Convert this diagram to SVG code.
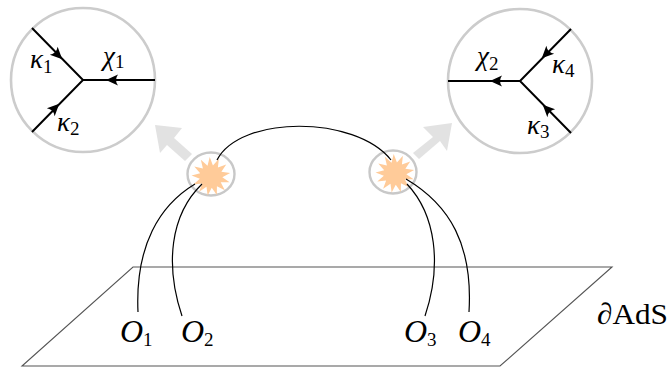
<svg xmlns="http://www.w3.org/2000/svg" width="672" height="367" viewBox="0 0 672 367">
<style>
.big{fill:none;stroke:#ccc;stroke-width:2.6}
.small{fill:none;stroke:#c8c8c8;stroke-width:2.4}
.leg{fill:none;stroke:#000;stroke-width:2}
.ah{fill:#000;stroke:none}
.wire{fill:none;stroke:#000;stroke-width:1.2}
.star{fill:#ffcb99;stroke:none}
.arrow{fill:#e2e2e2;stroke:none}
text{font-family:"Liberation Serif","DejaVu Serif",serif;fill:#000}
.m{font-style:italic;font-size:27px}
.o{font-style:italic;font-size:32px}
.sub{font-size:19px;font-style:normal}
</style>
<defs>
<path id="ah" class="ah" d="M6 0L-6 -5.5Q-2 0 -6 5.5Z"/>
<polygon id="burst" class="star" points="-1.2,-18 1.8,-10.3 7.3,-16.5 6.4,-8.3 14.1,-11.2 9.6,-4.4 17.7,-3.3 10.5,.6 17.2,5.3 9,5.4 12.8,12.7 5.5,9 5.4,17.2 .7,10.5 -3.1,17.7 -4.2,9.6 -11,14.2 -8.2,6.5 -16.4,7.5 -10.3,2 -18,-1 -10,-3.1 -15.5,-9.2 -7.5,-7.4 -9.4,-15.4 -3.2,-10"/>
</defs>
<g id="plane"><polygon points="133,267 612,267 500,366 22,366" fill="none" stroke="#555" stroke-width="1.1"/></g>
<g id="arrows">
<polygon class="arrow" points="155,125 182,128 174,138 192,154 185,161 167,145 160,153"/>
<polygon class="arrow" points="452,123 423,127 433,137 413,153 419,159 440,141 447,151"/>
</g>
<g id="blob-left"><ellipse class="small" cx="211" cy="174" rx="23.5" ry="21.5"/><use href="#burst" transform="translate(211,176.5) scale(1.08)"/></g>
<g id="blob-right"><ellipse class="small" cx="393" cy="172" rx="23.5" ry="21.5"/><use href="#burst" transform="translate(395,173.5) scale(1.08)"/></g>
<g id="connectors">
<path class="wire" d="M217,160C240,115 355,115 391,160"/>
<path class="wire" d="M195,184C160,205 135,245 138,312"/>
<path class="wire" d="M202,184C170,215 165,265 182,316"/>
<path class="wire" d="M407,184C436,215 442,265 425,316"/>
<path class="wire" d="M406,179C450,205 473,245 469,312"/>
</g>
<g id="vertex-left">
<circle class="big" cx="83" cy="80" r="72"/>
<path class="leg" d="M32,28L83,80L32,132M83,80H155"/>
<use href="#ah" transform="translate(58,55) rotate(45)"/>
<use href="#ah" transform="translate(55,108) rotate(-45)"/>
<use href="#ah" transform="translate(112,80) rotate(180)"/>
<text class="m" x="30" y="68">κ<tspan class="sub" dy="5">1</tspan></text>
<text class="m" x="57" y="131">κ<tspan class="sub" dy="4">2</tspan></text>
<text class="m" x="103" y="65">χ<tspan class="sub" dy="3">1</tspan></text>
</g>
<g id="vertex-right">
<circle class="big" cx="520" cy="81" r="72"/>
<path class="leg" d="M571,29L520,81L571,133M520,81H448"/>
<use href="#ah" transform="translate(546,54) rotate(135)"/>
<use href="#ah" transform="translate(547,109) rotate(-135)"/>
<use href="#ah" transform="translate(496,81) rotate(180)"/>
<text class="m" x="552" y="73">κ<tspan class="sub" dy="4">4</tspan></text>
<text class="m" x="527" y="134">κ<tspan class="sub" dy="4">3</tspan></text>
<text class="m" x="477" y="65">χ<tspan class="sub" dy="5">2</tspan></text>
</g>
<g id="labels">
<text class="o" x="120" y="342">O<tspan class="sub" dy="4">1</tspan></text>
<text class="o" x="181" y="342">O<tspan class="sub" dy="4">2</tspan></text>
<text class="o" x="404" y="342">O<tspan class="sub" dy="4">3</tspan></text>
<text class="o" x="458" y="342">O<tspan class="sub" dy="4">4</tspan></text>
<text x="597" y="324" font-size="30" textLength="71" lengthAdjust="spacingAndGlyphs">∂AdS</text>
</g>
</svg>
